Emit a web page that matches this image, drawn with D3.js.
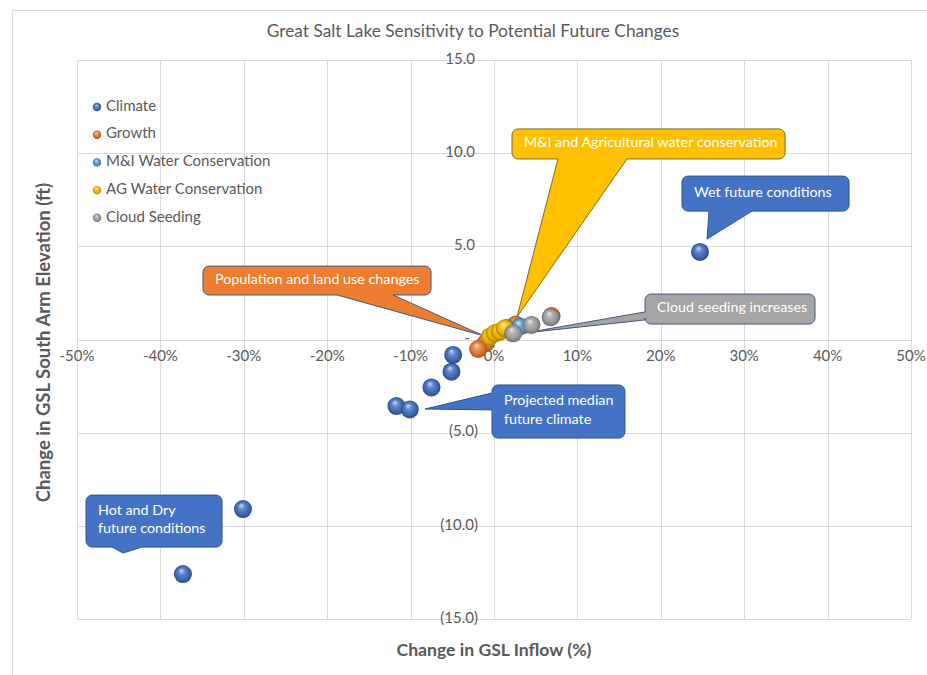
<!DOCTYPE html>
<html>
<head>
<meta charset="utf-8">
<script src="https://cdn.jsdelivr.net/npm/d3@7"></script>
<style>
  html, body { margin: 0; padding: 0; background: #fff; }
  svg { display: block; font-family: "Lato", "Open Sans", sans-serif; }
</style>
</head>
<body>
<svg id="chart" width="927" height="675"></svg>
<script>
// Series values: [change in inflow (fraction), change in elevation (ft)]
const climate = [[-0.373, -12.59], [-0.301, -9.10], [-0.117, -3.57], [-0.101, -3.75],
                 [-0.075, -2.57], [-0.051, -1.73], [-0.049, -0.83], [0.247, 4.70]];
const growth = [[0.026, 0.80], [0.069, 1.26], [-0.010, -0.20], [-0.019, -0.51]];
const miConservation = [[0.015, 0.60], [0.031, 0.70]];
const agConservation = [[-0.005, 0.15], [0.001, 0.33], [0.007, 0.42], [0.013, 0.60]];
const cloudSeeding = [[0.023, 0.33], [0.045, 0.78], [0.068, 1.19]];

const seriesNames = ["Climate", "Growth", "M&I Water Conservation", "AG Water Conservation", "Cloud Seeding"];
const seriesColors = ["#4472C4", "#ED7D31", "#5B9BD5", "#FFC000", "#A5A5A5"];
const seriesData = [climate, growth, miConservation, agConservation, cloudSeeding];

const xTicks = [-0.5, -0.4, -0.3, -0.2, -0.1, 0, 0.1, 0.2, 0.3, 0.4, 0.5];
const yTicks = [-15, -10, -5, 0, 5, 10, 15];

const chartTitle = "Great Salt Lake Sensitivity to Potential Future Changes";
const xTitle = "Change in GSL Inflow (%)";
const yTitle = "Change in GSL South Arm Elevation (ft)";

// Callouts: box [x0, x1] in inflow units, [yTop, yBottom] in ft, wedge base and tip in data units
const callouts = [
  { lines: ["M&I and Agricultural water conservation"], fill: "#FFC000", stroke: "#7f6a2a",
    box: [0.0216, 0.349, 11.30, 9.69], side: "bottom", base: [0.0767, 0.1595], tip: [0.0276, 1.21] },
  { lines: ["Wet future conditions"], fill: "#4472C4", stroke: "#2F528F",
    box: [0.2254, 0.4257, 8.77, 6.89], side: "bottom", base: [0.2578, 0.3094], tip: [0.2554, 5.39] },
  { lines: ["Population and land use changes"], fill: "#ED7D31", stroke: "#41587a",
    box: [-0.3489, -0.0755, 3.94, 2.39], side: "bottom", base: [-0.1882, -0.1211], tip: [-0.012, 0.19] },
  { lines: ["Cloud seeding increases"], fill: "#A5A5A5", stroke: "#41587a",
    box: [0.1811, 0.3849, 2.44, 0.83], side: "left", base: [1.48, 1.05], tip: [0.037, 0.35] },
  { lines: ["Projected median", "future climate"], fill: "#4472C4", stroke: "#2F528F",
    box: [-0.0024, 0.157, -2.44, -5.29], side: "left", base: [-2.87, -3.78], tip: [-0.0827, -3.73] },
  { lines: ["Hot and Dry", "future conditions"], fill: "#4472C4", stroke: "#2F528F",
    box: [-0.4892, -0.3261, -8.35, -11.14], side: "bottom", base: [-0.458, -0.422], tip: [-0.4448, -11.46] }
];

const svg = d3.select("#chart");
const textColor = "#595959";
const gridColor = "#d9d9d9";

// Outer chart frame
svg.append("path")
  .attr("d", "M12.5,675 V10.5 H927")
  .attr("fill", "none").attr("stroke", gridColor).attr("stroke-width", 1);

const x = d3.scaleLinear().domain([-0.5, 0.5]).range([77, 911]);
const y = d3.scaleLinear().domain([-15, 15]).range([619, 60]);

// Sphere gradients for each series
const defs = svg.append("defs");
seriesColors.forEach((c, i) => {
  const base = d3.color(c);
  const g = defs.append("radialGradient")
    .attr("id", "sphere" + i)
    .attr("cx", "50%").attr("cy", "50%").attr("r", "50%")
    .attr("fx", "40%").attr("fy", "28%");
  g.append("stop").attr("offset", "0%").attr("stop-color", d3.interpolateRgb(c, "#ffffff")(0.75));
  g.append("stop").attr("offset", "35%").attr("stop-color", d3.interpolateRgb(c, "#ffffff")(0.15));
  g.append("stop").attr("offset", "75%").attr("stop-color", base.darker(0.3));
  g.append("stop").attr("offset", "100%").attr("stop-color", base.darker(1.2));
});

// Gridlines
svg.append("g").selectAll("line").data(xTicks).join("line")
  .attr("x1", d => Math.round(x(d)) + 0.5).attr("x2", d => Math.round(x(d)) + 0.5)
  .attr("y1", y(15)).attr("y2", y(-15))
  .attr("stroke", gridColor);
svg.append("g").selectAll("line").data(yTicks).join("line")
  .attr("x1", x(-0.5)).attr("x2", x(0.5))
  .attr("y1", d => Math.round(y(d)) + 0.5).attr("y2", d => Math.round(y(d)) + 0.5)
  .attr("stroke", gridColor);

// Tick labels
const fmtX = d => Math.round(d * 100) + "%";
const fmtY = d => d === 0 ? "-" : d > 0 ? d.toFixed(1) : "(" + (-d).toFixed(1) + ")";

svg.append("g").selectAll("text").data(xTicks).join("text")
  .attr("x", d => x(d)).attr("y", y(0) + 18)
  .attr("text-anchor", "middle").attr("dominant-baseline", "middle")
  .attr("fill", textColor).attr("font-size", 15)
  .text(fmtX);
svg.append("g").selectAll("text").data(yTicks).join("text")
  .attr("x", d => x(0) - (d < 0 ? 16 : d === 0 ? 24 : 19)).attr("y", d => y(d))
  .attr("text-anchor", "end").attr("dominant-baseline", "middle")
  .attr("fill", textColor).attr("font-size", 15)
  .text(fmtY);

// Titles
svg.append("text").attr("x", 473).attr("y", 33)
  .attr("text-anchor", "middle").attr("dominant-baseline", "middle")
  .attr("fill", textColor).attr("font-size", 17.3).text(chartTitle);
svg.append("text").attr("x", x(0)).attr("y", 651)
  .attr("text-anchor", "middle").attr("dominant-baseline", "middle")
  .attr("fill", textColor).attr("font-size", 17.6).attr("font-weight", "bold").text(xTitle);
svg.append("text").attr("transform", `translate(45,${y(0) + 3}) rotate(-90)`)
  .attr("text-anchor", "middle").attr("dominant-baseline", "middle")
  .attr("fill", textColor).attr("font-size", 18.5).attr("font-weight", "bold").text(yTitle);

// Callout shape: rounded rectangle with a pointer on the bottom or left edge
function calloutPath(c) {
  const x0 = x(c.box[0]), x1 = x(c.box[1]), y0 = y(c.box[2]), y1 = y(c.box[3]);
  const r = 6, tx = x(c.tip[0]), ty = y(c.tip[1]);
  const p = d3.path();
  p.moveTo(x0 + r, y0);
  p.lineTo(x1 - r, y0);
  p.arcTo(x1, y0, x1, y0 + r, r);
  p.lineTo(x1, y1 - r);
  p.arcTo(x1, y1, x1 - r, y1, r);
  if (c.side === "bottom") {
    p.lineTo(x(c.base[1]), y1);
    p.lineTo(tx, ty);
    p.lineTo(x(c.base[0]), y1);
  }
  p.lineTo(x0 + r, y1);
  p.arcTo(x0, y1, x0, y1 - r, r);
  if (c.side === "left") {
    p.lineTo(x0, y(c.base[1]));
    p.lineTo(tx, ty);
    p.lineTo(x0, y(c.base[0]));
  }
  p.lineTo(x0, y0 + r);
  p.arcTo(x0, y0, x0 + r, y0, r);
  p.closePath();
  return p.toString();
}

const cg = svg.append("g").selectAll("g").data(callouts).join("g");
cg.append("path").attr("d", calloutPath)
  .attr("fill", d => d.fill).attr("stroke", d => d.stroke).attr("stroke-width", 1);
cg.each(function (c) {
  const g = d3.select(this);
  const cx = x(c.box[0]) + 12;
  const cy = (y(c.box[2]) + y(c.box[3])) / 2;
  const n = c.lines.length;
  c.lines.forEach((t, i) => {
    g.append("text").attr("x", cx).attr("y", cy + (i - (n - 1) / 2) * 18.5 - 0.5)
      .attr("dominant-baseline", "middle").attr("fill", "#ffffff")
      .attr("font-size", 14.3).text(t);
  });
});

// Data points drawn as shaded spheres
seriesData.forEach((data, i) => {
  svg.append("g").selectAll("circle").data(data).join("circle")
    .attr("cx", d => x(d[0])).attr("cy", d => y(d[1])).attr("r", 9)
    .attr("fill", `url(#sphere${i})`);
});

// Legend
const lg = svg.append("g").selectAll("g").data(seriesNames).join("g")
  .attr("transform", (d, i) => `translate(97,${107 + i * 27.7})`);
lg.append("circle").attr("r", 4.2).attr("fill", (d, i) => `url(#sphere${i})`);
lg.append("text").attr("x", 9).attr("dominant-baseline", "middle")
  .attr("fill", textColor).attr("font-size", 15).text(d => d);
</script>
</body>
</html>
